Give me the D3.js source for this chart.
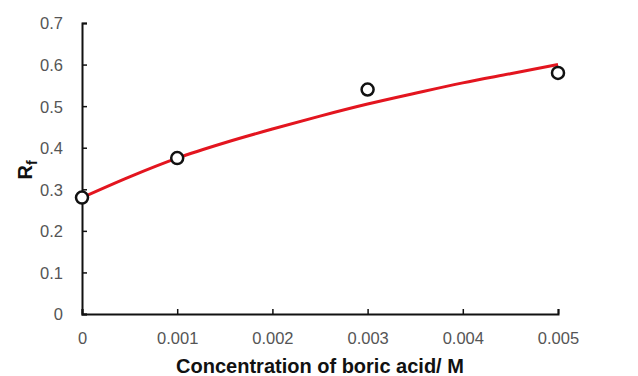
<!DOCTYPE html>
<html>
<head>
<meta charset="utf-8">
<script src="https://cdn.jsdelivr.net/npm/d3@7"></script>
<style>
  body { margin: 0; background: #fff; }
  text { font-family: "Liberation Sans", Arial, sans-serif; }
</style>
</head>
<body>
<svg id="chart" width="638" height="376"></svg>
<script>
// measured points
const concs = [0, 0.001, 0.003, 0.005];
const rfValues = [0.28, 0.375, 0.54, 0.58];

// fitted curve
const fitX = [0, 0.0005, 0.001, 0.0015, 0.002, 0.0025, 0.003, 0.0035, 0.004, 0.0045, 0.005];
const fitY = [0.28, 0.33, 0.375, 0.412, 0.445, 0.476, 0.505, 0.531, 0.556, 0.578, 0.6];

const xTicks = [0, 0.001, 0.002, 0.003, 0.004, 0.005];
const yTicks = [0, 0.1, 0.2, 0.3, 0.4, 0.5, 0.6, 0.7];

const margin = { top: 23, left: 82, right: 80, bottom: 62 };
const width = 638, height = 376;

const svg = d3.select("#chart");

const x = d3.scaleLinear().domain([0, 0.005]).range([margin.left, width - margin.right]);
const y = d3.scaleLinear().domain([0, 0.7]).range([height - margin.bottom, margin.top]);

// axes (ticks point inward)
const xAxis = svg.append("g")
  .attr("transform", `translate(0,${y(0)})`)
  .call(d3.axisBottom(x).tickValues(xTicks).tickSize(-5).tickFormat(d => d === 0 ? "0" : String(+d.toFixed(3))));
const yAxis = svg.append("g")
  .attr("transform", `translate(${x(0)},0)`)
  .call(d3.axisLeft(y).tickValues(yTicks).tickSize(-5).tickFormat(d => d === 0 ? "0" : d.toFixed(1)));

[xAxis, yAxis].forEach(g => {
  g.select(".domain").attr("stroke", "#111").attr("stroke-width", 2);
  g.selectAll(".tick line").attr("stroke", "#111").attr("stroke-width", 1.5);
  g.selectAll(".tick text").attr("fill", "#555").style("font-size", "16.5px");
});
xAxis.selectAll(".tick text").attr("dy", "0").attr("y", 30);
yAxis.selectAll(".tick text").attr("x", -19).attr("dy", "0.36em");

// fit line
const line = d3.line()
  .x((d, i) => x(fitX[i]))
  .y(d => y(d))
  .curve(d3.curveMonotoneX);

svg.append("path")
  .datum(fitY)
  .attr("fill", "none")
  .attr("stroke", "#e3151f")
  .attr("stroke-width", 3)
  .attr("d", line);

// data points
svg.selectAll("circle.pt")
  .data(concs)
  .join("circle")
  .attr("class", "pt")
  .attr("cx", d => x(d))
  .attr("cy", (d, i) => y(rfValues[i]))
  .attr("r", 6)
  .attr("fill", "#fff")
  .attr("stroke", "#111")
  .attr("stroke-width", 2.5);

// axis titles
svg.append("text")
  .attr("x", (x(0) + x(0.005)) / 2)
  .attr("y", 373)
  .attr("text-anchor", "middle")
  .style("font-size", "20px")
  .style("font-weight", "bold")
  .attr("fill", "#111")
  .text("Concentration of boric acid/ M");

const yt = svg.append("text")
  .attr("transform", "translate(32,170) rotate(-90)")
  .attr("text-anchor", "middle")
  .style("font-size", "20px")
  .style("font-weight", "bold")
  .attr("fill", "#111");
yt.append("tspan").text("R");
yt.append("tspan").attr("dy", 5).style("font-size", "14px").text("f");
</script>
</body>
</html>
